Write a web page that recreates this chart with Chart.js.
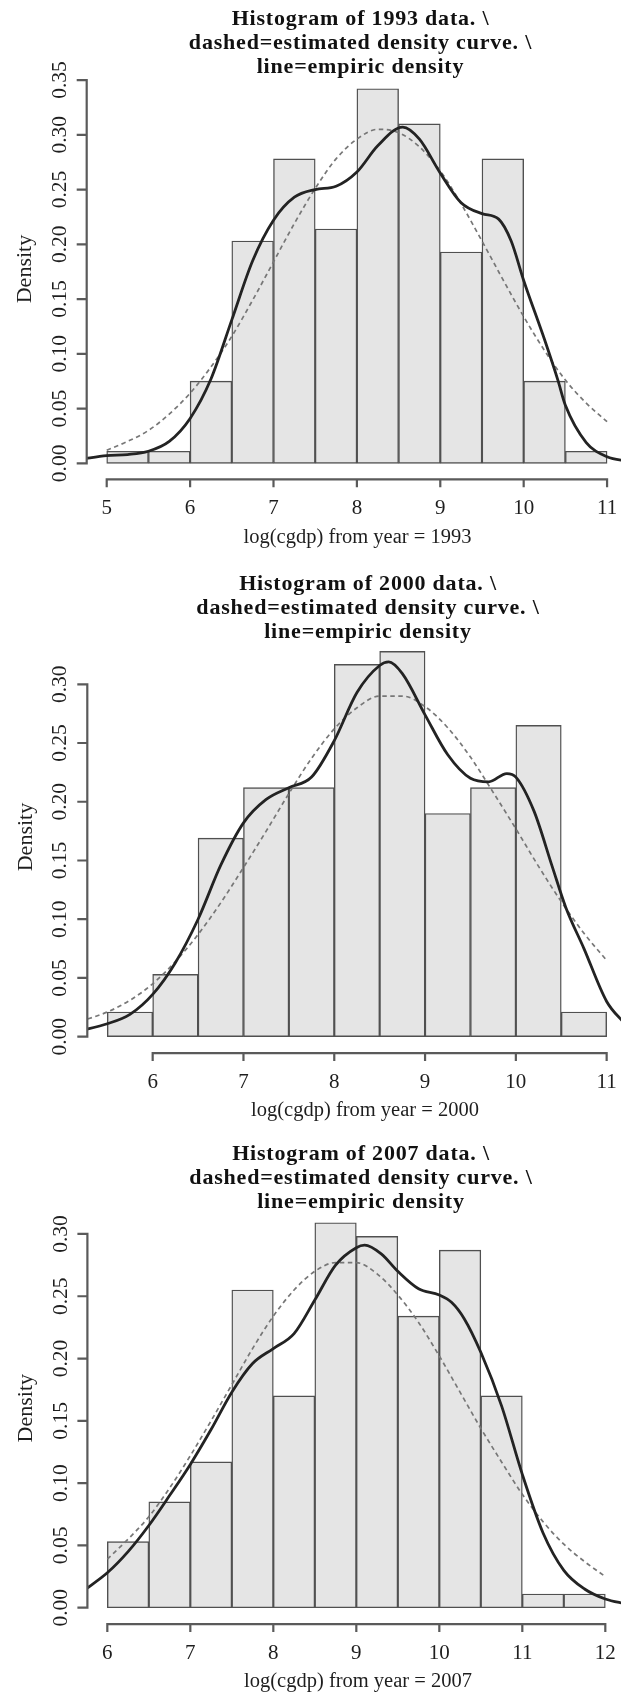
<!DOCTYPE html>
<html><head><meta charset="utf-8">
<script src="https://cdn.jsdelivr.net/npm/chart.js@4.4.1/dist/chart.umd.min.js"></script>
<style>
html,body{margin:0;padding:0;background:#fff;width:621px;height:1697px;overflow:hidden;}
canvas{position:absolute;left:0;}
</style></head><body>
<canvas id="c1" width="621" height="560" style="top:0px"></canvas>
<canvas id="c2" width="621" height="565" style="top:560px"></canvas>
<canvas id="c3" width="621" height="572" style="top:1125px"></canvas>
<script>
// ---------- DATA ----------
const breaks1993 = [5,5.5,6,6.5,7,7.5,8,8.5,9,9.5,10,10.5,11];
const dens1993   = [0.011,0.011,0.075,0.203,0.278,0.214,0.342,0.310,0.193,0.278,0.075,0.011];
const kdeX1993   = [4.7,5.0,5.25,5.5,5.75,6.0,6.25,6.5,6.75,7.0,7.25,7.5,7.75,8.0,8.25,8.55,8.75,9.0,9.25,9.5,9.7,9.85,10.0,10.25,10.41,10.5,10.75,11.0,11.25];
const kdeY1993   = [0.004,0.007,0.008,0.011,0.020,0.041,0.077,0.131,0.185,0.222,0.243,0.250,0.253,0.266,0.290,0.307,0.296,0.265,0.238,0.228,0.223,0.203,0.167,0.113,0.076,0.053,0.019,0.006,0.002];
const normX1993  = [5.0,5.25,5.5,5.75,6.0,6.25,6.5,6.75,7.0,7.25,7.5,7.75,8.0,8.25,8.5,8.75,9.0,9.25,9.5,9.75,10.0,10.25,10.5,10.75,11.0];
const normY1993  = [0.012,0.020,0.030,0.045,0.064,0.088,0.116,0.149,0.184,0.219,0.251,0.278,0.296,0.305,0.302,0.289,0.267,0.237,0.203,0.168,0.134,0.103,0.076,0.055,0.038];

const breaks2000 = [5.5,6,6.5,7,7.5,8,8.5,9,9.5,10,10.5,11];
const dens2000   = [0.021,0.053,0.169,0.212,0.212,0.317,0.328,0.190,0.212,0.265,0.021];
const kdeX2000   = [5.2,5.5,5.75,6.0,6.25,6.5,6.75,7.0,7.25,7.5,7.75,8.0,8.25,8.5,8.6,8.75,9.0,9.25,9.5,9.7,9.9,10.0,10.2,10.4,10.55,10.75,11.0,11.2];
const kdeY2000   = [0.005,0.011,0.019,0.036,0.063,0.100,0.146,0.182,0.202,0.212,0.221,0.252,0.293,0.316,0.319,0.309,0.274,0.240,0.220,0.217,0.224,0.221,0.192,0.145,0.110,0.075,0.030,0.011];
const normX2000  = [5.2,5.5,5.75,6.0,6.25,6.5,6.75,7.0,7.25,7.5,7.75,8.0,8.25,8.5,8.75,9.0,9.25,9.5,9.75,10.0,10.25,10.5,10.75,11.0];
const normY2000  = [0.013,0.021,0.031,0.045,0.064,0.087,0.114,0.144,0.175,0.207,0.237,0.262,0.280,0.290,0.290,0.281,0.263,0.238,0.208,0.177,0.145,0.115,0.088,0.065];

const breaks2007 = [6,6.5,7,7.5,8,8.5,9,9.5,10,10.5,11,11.5,12];
const dens2007   = [0.053,0.085,0.117,0.255,0.170,0.309,0.298,0.234,0.287,0.170,0.011,0.011];
const kdeX2007   = [5.7,6.0,6.25,6.5,6.75,7.0,7.25,7.5,7.75,8.0,8.25,8.5,8.75,9.0,9.1,9.3,9.5,9.75,10.0,10.15,10.3,10.5,10.75,11.0,11.25,11.5,11.75,12.0,12.25];
const kdeY2007   = [0.013,0.028,0.045,0.066,0.090,0.115,0.143,0.173,0.196,0.208,0.220,0.247,0.275,0.289,0.291,0.284,0.270,0.256,0.251,0.245,0.232,0.205,0.162,0.107,0.060,0.030,0.015,0.007,0.003];
const normX2007  = [6.0,6.25,6.5,6.75,7.0,7.25,7.5,7.75,8.0,8.25,8.5,8.75,9.0,9.25,9.5,9.75,10.0,10.25,10.5,10.75,11.0,11.25,11.5,11.75,12.0];
const normY2007  = [0.039,0.055,0.073,0.096,0.122,0.150,0.179,0.208,0.234,0.255,0.270,0.277,0.277,0.268,0.251,0.229,0.202,0.173,0.144,0.117,0.091,0.069,0.051,0.037,0.025];

const xTicks1993 = ['5','6','7','8','9','10','11'];
const yTicks1993 = ['0.00','0.05','0.10','0.15','0.20','0.25','0.30','0.35'];
const xTicks2000 = ['6','7','8','9','10','11'];
const yTicks2000 = ['0.00','0.05','0.10','0.15','0.20','0.25','0.30'];
const xTicks2007 = ['6','7','8','9','10','11','12'];
const yTicks2007 = ['0.00','0.05','0.10','0.15','0.20','0.25','0.30'];

const titleLines1993 = ['Histogram of 1993 data. \\','dashed=estimated density curve. \\','line=empiric density'];
const titleLines2000 = ['Histogram of 2000 data. \\','dashed=estimated density curve. \\','line=empiric density'];
const titleLines2007 = ['Histogram of 2007 data. \\','dashed=estimated density curve. \\','line=empiric density'];
const xLabel1993 = 'log(cgdp) from year = 1993';
const xLabel2000 = 'log(cgdp) from year = 2000';
const xLabel2007 = 'log(cgdp) from year = 2007';
const yLabel = 'Density';

// ---------- DRAWING ----------
const SERIF = "'Liberation Serif','Times New Roman',serif";

const rStyle = {
  id: 'rStyle',
  afterDatasetsDraw(chart, args, o) {
    const ctx = chart.ctx, xs = chart.scales.x, ys = chart.scales.y, a = chart.chartArea;
    ctx.save();
    // axes
    ctx.strokeStyle = '#5a5a5a'; ctx.lineWidth = 2.2; ctx.lineCap = 'butt';
    const yv = o.yTicks.map(Number), xv = o.xTicks.map(Number);
    const ax = a.left, ay = a.bottom + 1;
    ctx.beginPath();
    ctx.moveTo(ax, ys.getPixelForValue(yv[0]) + 1.1); ctx.lineTo(ax, ys.getPixelForValue(yv[yv.length-1]) - 1.1);
    yv.forEach(v => { const p = ys.getPixelForValue(v); ctx.moveTo(ax, p); ctx.lineTo(ax - 10, p); });
    ctx.moveTo(xs.getPixelForValue(xv[0]) - 1.1, ay); ctx.lineTo(xs.getPixelForValue(xv[xv.length-1]) + 1.1, ay);
    xv.forEach(v => { const p = xs.getPixelForValue(v); ctx.moveTo(p, ay); ctx.lineTo(p, ay + 8); });
    ctx.stroke();
    // tick labels
    ctx.fillStyle = '#1e1e1e';
    ctx.font = '21px ' + SERIF;
    ctx.textAlign = 'center'; ctx.textBaseline = 'middle';
    o.xTicks.forEach((t, i) => ctx.fillText(t, xs.getPixelForValue(xv[i]), a.bottom + 30));
    ctx.font = '21.5px ' + SERIF;
    o.yTicks.forEach((t, i) => {
      ctx.save(); ctx.translate(ax - 26.5, ys.getPixelForValue(yv[i])); ctx.rotate(-Math.PI/2);
      ctx.fillText(t, 0, 0); ctx.restore();
    });
    // axis titles
    ctx.font = '20.5px ' + SERIF;
    ctx.fillText(o.xLabel, o.titleX - 3, a.bottom + 59);
    ctx.font = '22px ' + SERIF;
    ctx.save(); ctx.translate(ax - 61, (a.top + a.bottom)/2 - 7); ctx.rotate(-Math.PI/2);
    ctx.fillText(yLabel, 0, 0); ctx.restore();
    // main title
    ctx.fillStyle = '#111';
    ctx.font = 'bold 22px ' + SERIF;
    try { ctx.letterSpacing = '0.8px'; } catch(e) {}
    o.title.forEach((t, i) => ctx.fillText(t, o.titleX, o.titleY[i]));
    ctx.restore();
  }
};

function pts(xArr, yArr) { return xArr.map((x, i) => ({x: x, y: yArr[i]})); }
function bars(br, d) { return d.map((v, i) => ({x: (br[i] + br[i+1]) / 2, y: v})); }

function makePanel(id, br, dens, kx, ky, nx, ny, layout, deco) {
  new Chart(document.getElementById(id), {
    type: 'bar',
    data: {
      datasets: [
        { type: 'line', data: pts(kx, ky), borderColor: '#232323', borderWidth: 2.8, pointRadius: 0,
          cubicInterpolationMode: 'monotone', clip: 0, order: 1 },
        { type: 'line', data: pts(nx, ny), borderColor: '#777', borderWidth: 1.7, borderDash: [4.5, 3.5],
          pointRadius: 0, cubicInterpolationMode: 'monotone', clip: 0, order: 2 },
        { type: 'bar', data: bars(br, dens), backgroundColor: '#e5e5e5', borderColor: '#505050',
          borderWidth: 1.4, borderSkipped: false, barPercentage: 1, categoryPercentage: 1, grouped: false, order: 3 }
      ]
    },
    options: {
      responsive: false, animation: false, devicePixelRatio: 1,
      layout: { padding: layout.pad },
      scales: {
        x: { type: 'linear', display: false, offset: false, min: layout.xmin, max: layout.xmax },
        y: { type: 'linear', display: false, min: layout.ymin, max: layout.ymax }
      },
      plugins: { legend: { display: false }, tooltip: { enabled: false }, rStyle: deco }
    },
    plugins: [rStyle]
  });
}

makePanel('c1', breaks1993, dens1993, kdeX1993, kdeY1993, normX1993, normY1993,
  { pad: {left: 86.7, top: 73.8, right: 0, bottom: 81.7}, xmin: 4.76, xmax: 11.167, ymin: -0.01368, ymax: 0.3557 },
  { xTicks: xTicks1993, yTicks: yTicks1993, title: titleLines1993, titleX: 360.5, titleY: [19.5, 43.5, 67.5], xLabel: xLabel1993 });

makePanel('c2', breaks2000, dens2000, kdeX2000, kdeY2000, normX2000, normY2000,
  { pad: {left: 87.3, top: 76, right: 0, bottom: 72.9}, xmin: 5.28, xmax: 11.158, ymin: -0.01312, ymax: 0.3411 },
  { xTicks: xTicks2000, yTicks: yTicks2000, title: titleLines2000, titleX: 368, titleY: [24, 48, 72], xLabel: xLabel2000 });

makePanel('c3', breaks2007, dens2007, kdeX2007, kdeY2007, normX2007, normY2007,
  { pad: {left: 87.4, top: 82.3, right: 0, bottom: 73.9}, xmin: 5.76, xmax: 12.189, ymin: -0.01236, ymax: 0.3214 },
  { xTicks: xTicks2007, yTicks: yTicks2007, title: titleLines2007, titleX: 361, titleY: [29, 53, 77], xLabel: xLabel2007 });
</script>
</body></html>
